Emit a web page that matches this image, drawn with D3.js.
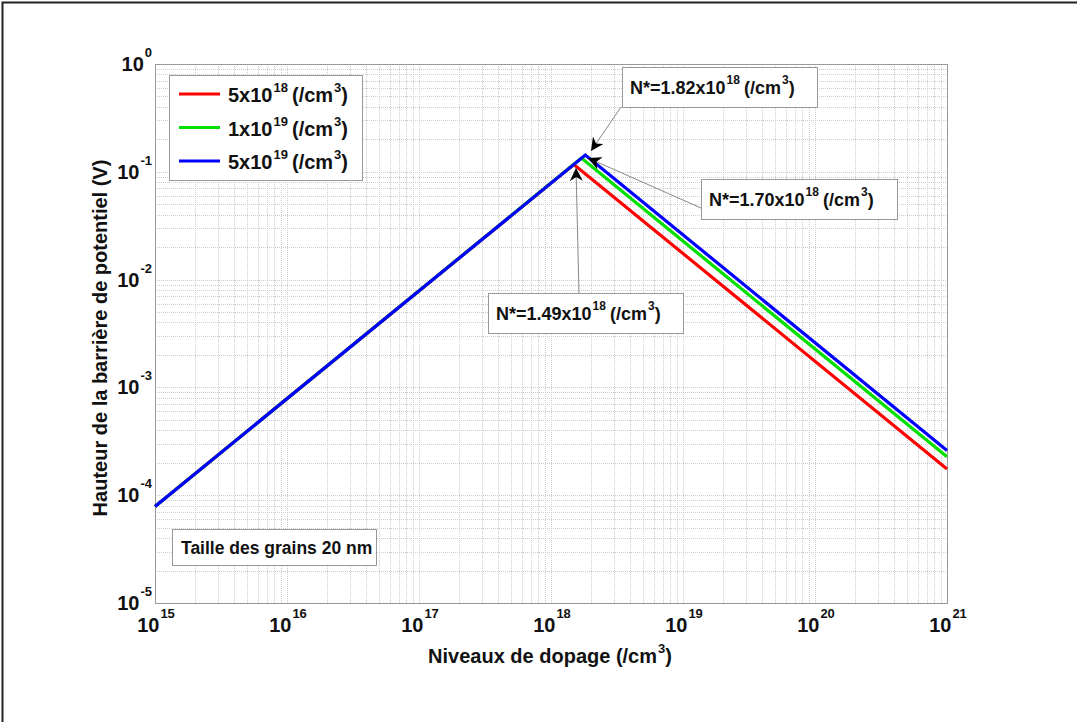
<!DOCTYPE html>
<html>
<head>
<meta charset="utf-8">
<script src="https://cdn.jsdelivr.net/npm/d3@7"></script>
<style>
  body { margin: 0; background: #fff; }
  svg text { font-family: "Liberation Sans", Arial, sans-serif; font-weight: bold; fill: #111; }
</style>
</head>
<body>
<div id="hook"></div>
<script>
// Data
var seriesNames = ["5x10", "1x10", "5x10"];
var seriesExp = ["18", "19", "19"];
var seriesColors = ["#ff0000", "#00e000", "#0000ff"];
// points (doping, barrier height): start, peak N*, end
var dopage = [
  [1e15, 1.49e18, 1e21],
  [1e15, 1.70e18, 1e21],
  [1e15, 1.82e18, 1e21]
];
var hauteur = [
  [7.86e-5, 0.117, 1.75e-4],
  [7.86e-5, 0.134, 2.27e-4],
  [7.86e-5, 0.143, 2.60e-4]
];
var xTickExp = [15, 16, 17, 18, 19, 20, 21];
var yTickExp = [0, -1, -2, -3, -4, -5];
var annotNum = ["1.82", "1.70", "1.49"];

var W = 1077, H = 722;
var m = { left: 155, top: 64, right: 947, bottom: 603 };

var svg = d3.select("#hook").append("svg")
    .attr("width", W)
    .attr("height", H);

// figure frame (top + left only)
svg.append("path").attr("d", "M2.5," + H + "V2.5H" + W)
    .attr("fill", "none").attr("stroke", "#222").attr("stroke-width", 2);

var x = d3.scaleLog().domain([1e15, 1e21]).range([m.left, m.right]);
var y = d3.scaleLog().domain([1e-5, 1]).range([m.bottom, m.top]);

// grid
var g = svg.append("g");
var xMinor = [], yMinor = [];
for (var e = 15; e < 21; e++) for (var k = 1; k < 10; k++) xMinor.push(k * Math.pow(10, e));
xMinor.push(1e21);
for (var e2 = -5; e2 < 0; e2++) for (var k2 = 1; k2 < 10; k2++) yMinor.push(k2 * Math.pow(10, e2));
yMinor.push(1);

g.selectAll(".gx").data(xMinor).enter().append("line")
    .attr("x1", function(d) { return Math.round(x(d)) + 0.5; })
    .attr("x2", function(d) { return Math.round(x(d)) + 0.5; })
    .attr("y1", m.top).attr("y2", m.bottom)
    .attr("stroke", "#cdcdcd").attr("stroke-dasharray", "1,1");
g.selectAll(".gy").data(yMinor).enter().append("line")
    .attr("y1", function(d) { return Math.round(y(d)) + 0.5; })
    .attr("y2", function(d) { return Math.round(y(d)) + 0.5; })
    .attr("x1", m.left).attr("x2", m.right)
    .attr("stroke", "#cdcdcd").attr("stroke-dasharray", "1,1");

// plot box
svg.append("rect").attr("x", m.left + 0.5).attr("y", m.top + 0.5)
    .attr("width", m.right - m.left).attr("height", m.bottom - m.top)
    .attr("fill", "none").attr("stroke", "#999");

// tick labels
function pow10(sel, exp) {
  sel.append("tspan").text("10");
  sel.append("tspan").attr("font-size", 13).attr("dy", -14).attr("dx", 1).text(exp);
}
xTickExp.forEach(function(e) {
  var t = svg.append("text").attr("x", x(Math.pow(10, e)) + 1).attr("y", 632)
      .attr("font-size", 20).attr("text-anchor", "middle");
  pow10(t, e);
});
yTickExp.forEach(function(e) {
  var t = svg.append("text").attr("x", 152).attr("y", y(Math.pow(10, e)) + 7)
      .attr("font-size", 20).attr("text-anchor", "end");
  pow10(t, e);
});

// axis titles
var xt = svg.append("text").attr("x", 550).attr("y", 663).attr("font-size", 20)
    .attr("text-anchor", "middle");
xt.append("tspan").text("Niveaux de dopage (/cm");
xt.append("tspan").attr("font-size", 13).attr("dy", -10).attr("dx", 1).text("3");
xt.append("tspan").attr("dy", 10).text(")");
svg.append("text").attr("transform", "translate(107,338) rotate(-90)")
    .attr("font-size", 20).attr("text-anchor", "middle")
    .text("Hauteur de la barrière de potentiel (V)");

// lines
var line = d3.line().x(function(d) { return x(d[0]); }).y(function(d) { return y(d[1]); });
dopage.forEach(function(xs, i) {
  var pts = xs.map(function(v, j) { return [v, hauteur[i][j]]; });
  svg.append("path").attr("d", line(pts)).attr("fill", "none")
      .attr("stroke", seriesColors[i]).attr("stroke-width", 3.2)
      .attr("stroke-linejoin", "miter");
});

// legend
svg.append("rect").attr("x", 169.5).attr("y", 75.5).attr("width", 193).attr("height", 105)
    .attr("fill", "#fff").attr("stroke", "#999");
seriesNames.forEach(function(n, i) {
  var yy = 94 + i * 33.5;
  svg.append("line").attr("x1", 179).attr("x2", 220).attr("y1", yy).attr("y2", yy)
      .attr("stroke", seriesColors[i]).attr("stroke-width", 3.2);
  var t = svg.append("text").attr("x", 228).attr("y", yy + 8).attr("font-size", 20);
  t.append("tspan").text(n);
  t.append("tspan").attr("font-size", 13).attr("dy", -10).attr("dx", 1).text(seriesExp[i]);
  t.append("tspan").attr("dy", 10).attr("dx", 4).text("(/cm");
  t.append("tspan").attr("font-size", 13).attr("dy", -10).attr("dx", 1).text("3");
  t.append("tspan").attr("dy", 10).text(")");
});

// annotations
var defs = svg.append("defs");
defs.append("marker").attr("id", "ah").attr("viewBox", "0 0 10 10")
    .attr("refX", 10).attr("refY", 5).attr("markerWidth", 13).attr("markerHeight", 13)
    .attr("markerUnits", "userSpaceOnUse").attr("orient", "auto")
    .append("path").attr("d", "M0,0L10,5L0,10L3,5Z").attr("fill", "#000");

var boxes = [
  { bx: 622, by: 67, bw: 195, bh: 40, from: [621, 107], to: [591, 151] },
  { bx: 701, by: 179, bw: 196, bh: 40, from: [701, 208], to: [588, 158] },
  { bx: 488, by: 293, bw: 195, bh: 40, from: [579, 293], to: [576, 168] }
];
boxes.forEach(function(b, i) {
  svg.append("line").attr("x1", b.from[0]).attr("y1", b.from[1])
      .attr("x2", b.to[0]).attr("y2", b.to[1])
      .attr("stroke", "#888").attr("stroke-width", 1).attr("marker-end", "url(#ah)");
  svg.append("rect").attr("x", b.bx + 0.5).attr("y", b.by + 0.5).attr("width", b.bw).attr("height", b.bh)
      .attr("fill", "#fff").attr("stroke", "#999");
  var t = svg.append("text").attr("x", b.bx + 8).attr("y", b.by + 27).attr("font-size", 18);
  t.append("tspan").text("N*=" + annotNum[i] + "x10");
  t.append("tspan").attr("font-size", 12).attr("dy", -10).attr("dx", 1).text("18");
  t.append("tspan").attr("dy", 10).attr("dx", 4).text("(/cm");
  t.append("tspan").attr("font-size", 12).attr("dy", -10).attr("dx", 1).text("3");
  t.append("tspan").attr("dy", 10).text(")");
});

// grain size note
svg.append("rect").attr("x", 172.5).attr("y", 529.5).attr("width", 204).attr("height", 36)
    .attr("fill", "#fff").attr("stroke", "#999");
svg.append("text").attr("x", 181).attr("y", 554).attr("font-size", 17.5)
    .text("Taille des grains 20 nm");
</script>
</body>
</html>
